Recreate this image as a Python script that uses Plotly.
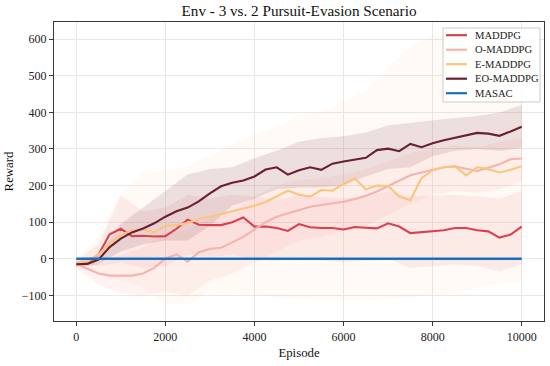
import plotly.graph_objects as go

# ---------------- data ----------------
episodes = [0, 250, 500, 750, 1000, 1250, 1500, 1750, 2000, 2250, 2500, 2750, 3000, 3250,
            3500, 3750, 4000, 4250, 4500, 4750, 5000, 5250, 5500, 5750, 6000, 6250, 6500,
            6750, 7000, 7250, 7500, 7750, 8000, 8250, 8500, 8750, 9000, 9250, 9500, 9750, 10000]

maddpg = [-13, -12, 12, 67, 82, 62, 63, 61, 62, 82, 107, 93, 92, 92, 100, 113, 88, 88, 84, 76,
          95, 86, 84, 84, 80, 87, 85, 83, 97, 88, 70, 72, 75, 78, 84, 84, 78, 75, 58, 66, 88]
o_maddpg = [-14, -28, -40, -46, -47, -46, -40, -25, 0, 12, -8, 18, 27, 30, 45, 60, 80, 100, 115,
            124, 135, 142, 147, 151, 156, 163, 172, 184, 198, 212, 228, 236, 244, 250, 252, 246,
            240, 249, 258, 272, 274]
e_maddpg = [-11, -8, 12, 42, 65, 78, 80, 72, 90, 92, 98, 108, 115, 122, 130, 138, 145, 155, 170,
            186, 175, 170, 188, 186, 205, 220, 190, 200, 199, 170, 160, 220, 242, 250, 253, 228,
            250, 245, 236, 243, 253]
eo_maddpg = [-15, -14, -2, 32, 55, 72, 83, 97, 115, 130, 140, 157, 179, 198, 208, 214, 225, 244,
             250, 230, 242, 250, 243, 260, 266, 272, 276, 297, 301, 294, 314, 305, 316, 324, 330,
             337, 344, 342, 336, 348, 361]
masac = [0] * len(episodes)

band_episodes = [0, 500, 1000, 1500, 2000, 2500, 3000, 3500, 4000, 4500, 5000, 5500, 6000,
                 6500, 7000, 7500, 8000, 8500, 9000, 9500, 10000]

maddpg_upper = [-5, 40, 172, 130, 140, 175, 165, 175, 170, 160, 175, 170, 165, 170, 185, 170,
                172, 175, 170, 165, 185]
maddpg_lower = [-20, -20, -10, -25, -20, 10, 5, 10, 0, -5, 5, -5, -10, -5, 0, -25, -20, -15,
                -20, -35, -15]
o_upper = [-5, -15, 10, 30, 70, 80, 110, 130, 170, 200, 215, 220, 230, 245, 265, 290, 300, 310,
           305, 320, 330]
o_lower = [-25, -70, -95, -100, -90, -100, -60, -40, -10, 20, 50, 60, 75, 90, 120, 150, 175, 185,
           180, 190, 210]
e_upper = [-3, 60, 180, 235, 240, 255, 280, 310, 340, 360, 390, 400, 430, 460, 520, 580, 610,
           600, 590, 585, 570]
e_lower = [-20, -40, -60, -80, -125, -125, -90, -95, -100, -105, -110, -110, -112, -115, -110,
           -105, -100, -95, -80, -70, -60]
eo_upper = [-8, 12, 95, 140, 185, 230, 245, 250, 275, 295, 320, 330, 335, 345, 365, 372, 380,
            385, 390, 400, 420]
eo_lower = [-22, -15, 20, 40, 50, 50, 90, 145, 165, 190, 195, 195, 200, 225, 245, 250, 280, 295,
            300, 295, 303]

names = ["MADDPG", "O-MADDPG", "E-MADDPG", "EO-MADDPG", "MASAC"]
colors = ["#d9414f", "#f6b3ae", "#fbc57f", "#6b1f33", "#1a6fbd"]
fills = ["rgba(217,65,79,0.09)", "rgba(246,160,160,0.14)", "rgba(251,190,140,0.08)",
         "rgba(107,31,51,0.12)"]

means = [maddpg, o_maddpg, e_maddpg, eo_maddpg, masac]
uppers = [maddpg_upper, o_upper, e_upper, eo_upper]
lowers = [maddpg_lower, o_lower, e_lower, eo_lower]

FONT = "Liberation Serif, Times New Roman, serif"
W, H = 550, 366
ML, MR, MT, MB = 54, 6, 22, 45
PW, PH = W - ML - MR, H - MT - MB


def px_to_paper_x(px):
    return (px - ML) / PW


def px_to_paper_y(py):
    return 1 - (py - MT) / PH


fig = go.Figure()

for up, lo, fc in zip(uppers, lowers, fills):
    fig.add_trace(go.Scatter(
        x=band_episodes + band_episodes[::-1],
        y=up + lo[::-1],
        fill="toself", fillcolor=fc, line=dict(width=0),
        mode="lines", hoverinfo="skip", showlegend=False))

widths = [2.1, 2.1, 2.1, 2.1, 2.6]
for name, col, y, w in zip(names, colors, means, widths):
    fig.add_trace(go.Scatter(
        x=episodes, y=y, mode="lines", name=name, showlegend=False,
        line=dict(color=col, width=w)))

axis_common = dict(
    showline=True, mirror=True, linecolor="#3a3a3a", linewidth=1.3,
    ticks="outside", ticklen=4, tickcolor="#3a3a3a", tickwidth=1,
    showgrid=True, gridcolor="#e8e8e8", gridwidth=1, zeroline=False, automargin=False,
    tickfont=dict(family=FONT, size=12, color="#222"), tickformat="d",
)

# legend box (drawn as shapes + text so the compact matplotlib spacing is kept)
box_l, box_r, box_t, box_b = 443, 540, 28, 102
shapes = [dict(type="rect", xref="paper", yref="paper",
               x0=px_to_paper_x(box_l), x1=px_to_paper_x(box_r),
               y0=px_to_paper_y(box_b), y1=px_to_paper_y(box_t),
               line=dict(color="#cccccc", width=1), fillcolor="rgba(255,255,255,0.85)",
               layer="above")]
annotations = []
for i, (name, col) in enumerate(zip(names, colors)):
    cy = 35.2 + 14.5 * i
    shapes.append(dict(type="line", xref="paper", yref="paper",
                       x0=px_to_paper_x(446), x1=px_to_paper_x(467),
                       y0=px_to_paper_y(cy), y1=px_to_paper_y(cy),
                       line=dict(color=col, width=2.2), layer="above"))
    annotations.append(dict(text=name, xref="paper", yref="paper",
                            x=px_to_paper_x(473), y=px_to_paper_y(cy),
                            xanchor="left", yanchor="middle", showarrow=False,
                            font=dict(family=FONT, size=10.6, color="#222")))

fig.update_layout(
    width=W, height=H,
    margin=dict(l=ML, r=MR, t=MT, b=MB, autoexpand=False),
    paper_bgcolor="white", plot_bgcolor="white",
    title=dict(text="Env - 3 vs. 2 Pursuit-Evasion Scenario", x=299 / W,
               xanchor="center", y=1 - 11 / H, yanchor="middle",
               font=dict(family=FONT, size=15.2, color="#111")),
    xaxis=dict(range=[-500, 10500], tickvals=[0, 2000, 4000, 6000, 8000, 10000],
               title=dict(text="Episode", font=dict(family=FONT, size=12.8, color="#111"),
                          standoff=5),
               **axis_common),
    yaxis=dict(range=[-170, 647], tickvals=[-100, 0, 100, 200, 300, 400, 500, 600],
               title=dict(text="Reward", font=dict(family=FONT, size=12.8, color="#111"),
                          standoff=5),
               **axis_common),
    shapes=shapes, annotations=annotations,
    showlegend=False,
)

fig.write_html("out.html", config={"displayModeBar": False},
               post_script="document.body.style.margin='0';document.body.style.overflow='hidden';")
